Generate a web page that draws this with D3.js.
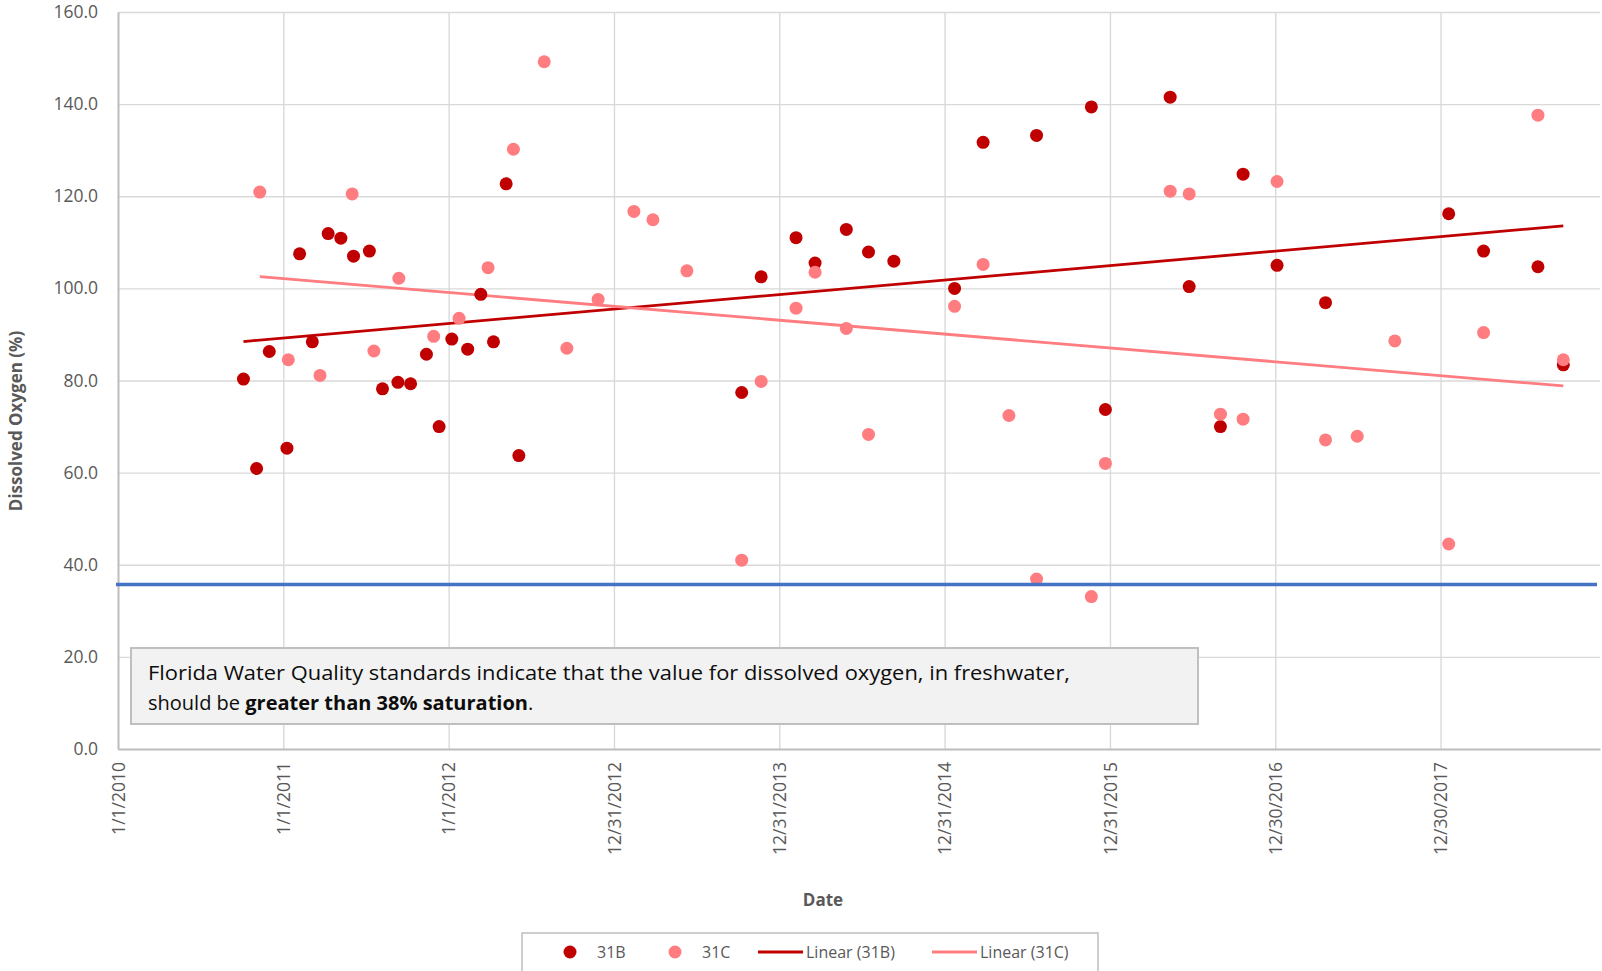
<!DOCTYPE html>
<html>
<head>
<meta charset="utf-8">
<script src="https://cdn.jsdelivr.net/npm/d3@7"></script>
<style>
body{margin:0;background:#fff;}
text{font-family:"Open Sans",sans-serif;}
</style>
</head>
<body>
<svg width="1602" height="971"></svg>
<script>
let dates31B = ["10/5/2010","11/3/2010","12/1/2010","1/9/2011","2/6/2011","3/6/2011","4/10/2011","5/8/2011",
    "6/5/2011","7/10/2011","8/8/2011","9/11/2011","10/9/2011","11/13/2011","12/11/2011","1/8/2012","2/12/2012",
    "3/12/2012","4/9/2012","5/7/2012","6/4/2012","10/9/2013","11/21/2013","2/6/2014","3/20/2014","5/28/2014",
    "7/16/2014","9/10/2014","1/22/2015","3/26/2015","7/22/2015","11/20/2015","12/21/2015","5/12/2016",
    "6/23/2016","8/31/2016","10/20/2016","1/3/2017","4/20/2017","1/17/2018","4/4/2018","8/2/2018","9/27/2018"];
let do31B = [80.3,60.9,86.3,65.3,107.5,88.4,111.9,110.9,107.0,108.1,78.2,79.6,79.3,85.7,70.0,89.0,86.8,
    98.7,88.4,122.7,63.7,77.4,102.5,111.0,105.5,112.8,107.9,105.9,100.0,131.7,133.2,139.4,73.7,141.5,
    100.4,70.0,124.8,105.0,96.9,116.2,108.1,104.7,83.4];
let dates31C = ["11/10/2010","1/12/2011","3/23/2011","6/2/2011","7/20/2011","9/13/2011","11/29/2011","1/24/2012",
    "3/28/2012","5/23/2012","7/30/2012","9/18/2012","11/26/2012","2/13/2013","3/27/2013","6/10/2013","10/9/2013",
    "11/21/2013","2/6/2014","3/20/2014","5/28/2014","7/16/2014","1/22/2015","3/26/2015","5/22/2015","7/22/2015",
    "11/20/2015","12/21/2015","5/12/2016","6/23/2016","8/31/2016","10/20/2016","1/3/2017","4/20/2017",
    "6/29/2017","9/20/2017","1/17/2018","4/4/2018","8/2/2018","9/27/2018"];
let do31C = [120.9,84.5,81.1,120.5,86.4,102.2,89.6,93.5,104.5,130.2,149.2,87.0,97.6,116.7,114.9,103.8,41.0,
    79.8,95.7,103.5,91.3,68.3,96.1,105.2,72.4,36.9,33.1,62.0,121.1,120.5,72.7,71.6,123.2,67.1,
    67.9,88.6,44.5,90.4,137.6,84.5];
let xTickLabels = ["1/1/2010","1/1/2011","1/1/2012","12/31/2012","12/31/2013","12/31/2014","12/31/2015","12/30/2016","12/30/2017"];
let xDomain = ["1/1/2010","12/17/2018"];
let yTicks = [0,20,40,60,80,100,120,140,160];
let threshold = 35.7;
let note1 = "Florida Water Quality standards indicate that the value for dissolved oxygen, in freshwater,";
let note2 = ["should be ","greater than 38% saturation","."];

let parseDate = d3.utcParse("%m/%d/%Y");
let svg = d3.select('svg');
let plotLeft = 118, plotRight = 1600, plotTop = 12, plotBottom = 749;
let xScale = d3.scaleUtc().domain(xDomain.map(parseDate)).range([plotLeft,plotRight]);
let yScale = d3.scaleLinear().domain([0,160]).range([plotBottom,plotTop]);

// gridlines
let yGrid = d3.axisLeft(yScale).tickValues(yTicks).tickSize(-(plotRight-plotLeft)).tickFormat('');
svg.append('g').attr('transform','translate('+plotLeft+',0)').call(yGrid);
let xGrid = d3.axisBottom(xScale).tickValues(xTickLabels.map(parseDate)).tickSize(-(plotBottom-plotTop)).tickFormat('');
svg.append('g').attr('transform','translate(0,'+plotBottom+')').call(xGrid);
svg.selectAll('.domain').remove();
svg.selectAll('.tick line').attr('stroke','#d9d9d9').attr('stroke-width',1.4);

// axes
let yAxis = d3.axisLeft(yScale).tickValues(yTicks).tickSize(0).tickPadding(20).tickFormat(d3.format('.1f'));
let yAxisG = svg.append('g').attr('transform','translate('+plotLeft+',0)').call(yAxis);
let xAxis = d3.axisBottom(xScale).tickValues(xTickLabels.map(parseDate)).tickSize(0).tickFormat((d,i)=>xTickLabels[i]);
let xAxisG = svg.append('g').attr('transform','translate(0,'+plotBottom+')').call(xAxis);
xAxisG.selectAll('text')
    .attr('transform','rotate(-90)')
    .attr('text-anchor','end')
    .attr('x',-13).attr('y',0).attr('dy','0.35em');
[yAxisG,xAxisG].forEach(g=>{
    g.select('.domain').attr('stroke','#bfbfbf').attr('stroke-width',2);
    g.selectAll('text').attr('fill','#595959').attr('font-size',17.5);
});

let series = [
    {name:'31B', color:'#C00000', dates:dates31B.map(parseDate), values:do31B},
    {name:'31C', color:'#FF7C80', dates:dates31C.map(parseDate), values:do31C}
];

function linReg(xs, ys){
    let mx = d3.mean(xs), my = d3.mean(ys);
    let sxy = d3.sum(xs,(x,i)=>(x-mx)*(ys[i]-my));
    let sxx = d3.sum(xs,x=>(x-mx)*(x-mx));
    let b = sxy/sxx;
    return x=>my+b*(x-mx);
}

// trendlines
series.forEach(s=>{
    let days = s.dates.map(d=>d/864e5);
    let f = linReg(days, s.values);
    let ends = d3.extent(s.dates);
    svg.append('line')
        .attr('x1',xScale(ends[0])).attr('y1',yScale(f(ends[0]/864e5)))
        .attr('x2',xScale(ends[1])).attr('y2',yScale(f(ends[1]/864e5)))
        .attr('stroke',s.color).attr('stroke-width',2.8);
});

// points
series.forEach(s=>{
    svg.append('g').selectAll('circle')
        .data(s.values)
        .enter()
        .append('circle')
        .attr('r',6.5)
        .attr('cx',(d,i)=>xScale(s.dates[i]))
        .attr('cy',d=>yScale(d))
        .attr('fill',s.color);
});

// threshold line
svg.append('line')
    .attr('x1',plotLeft-2).attr('x2',plotRight-3)
    .attr('y1',yScale(threshold)).attr('y2',yScale(threshold))
    .attr('stroke','#4472C4').attr('stroke-width',3.5);

// note box
svg.append('rect')
    .attr('x',131).attr('y',648).attr('width',1067).attr('height',76)
    .attr('fill','#f2f2f2').attr('stroke','#bfbfbf').attr('stroke-width',2);
svg.append('text')
    .attr('x',148).attr('y',680)
    .attr('font-size',20.5).attr('fill','#0d0d0d')
    .attr('textLength',922).attr('lengthAdjust','spacingAndGlyphs')
    .text(note1);
let t2 = svg.append('text')
    .attr('x',148).attr('y',710)
    .attr('font-size',20).attr('fill','#0d0d0d');
note2.forEach((s,i)=>t2.append('tspan').attr('font-weight',i==1?'bold':'normal').text(s));

// axis titles
svg.append('text')
    .attr('transform','translate(22,421) rotate(-90)')
    .attr('text-anchor','middle')
    .attr('font-size',17).attr('font-weight','bold').attr('fill','#595959')
    .text('Dissolved Oxygen (%)');
svg.append('text')
    .attr('x',823).attr('y',906)
    .attr('text-anchor','middle')
    .attr('font-size',17).attr('font-weight','bold').attr('fill','#595959')
    .text('Date');

// legend
let legend = svg.append('g');
legend.append('rect')
    .attr('x',522).attr('y',933).attr('width',576).attr('height',60)
    .attr('fill','#fff').attr('stroke','#bfbfbf').attr('stroke-width',1.5);
let ly = 952;
legend.append('circle').attr('cx',570).attr('cy',ly).attr('r',6.5).attr('fill',series[0].color);
legend.append('text').attr('x',597).attr('y',ly).attr('dy','0.35em').text(series[0].name);
legend.append('circle').attr('cx',675).attr('cy',ly).attr('r',6.5).attr('fill',series[1].color);
legend.append('text').attr('x',702).attr('y',ly).attr('dy','0.35em').text(series[1].name);
legend.append('line').attr('x1',758).attr('x2',803).attr('y1',ly).attr('y2',ly).attr('stroke',series[0].color).attr('stroke-width',2.8);
legend.append('text').attr('x',806).attr('y',ly).attr('dy','0.35em').text('Linear ('+series[0].name+')');
legend.append('line').attr('x1',932).attr('x2',977).attr('y1',ly).attr('y2',ly).attr('stroke',series[1].color).attr('stroke-width',2.8);
legend.append('text').attr('x',980).attr('y',ly).attr('dy','0.35em').text('Linear ('+series[1].name+')');
legend.selectAll('text').attr('font-size',16).attr('fill','#595959');
</script>
</body>
</html>
